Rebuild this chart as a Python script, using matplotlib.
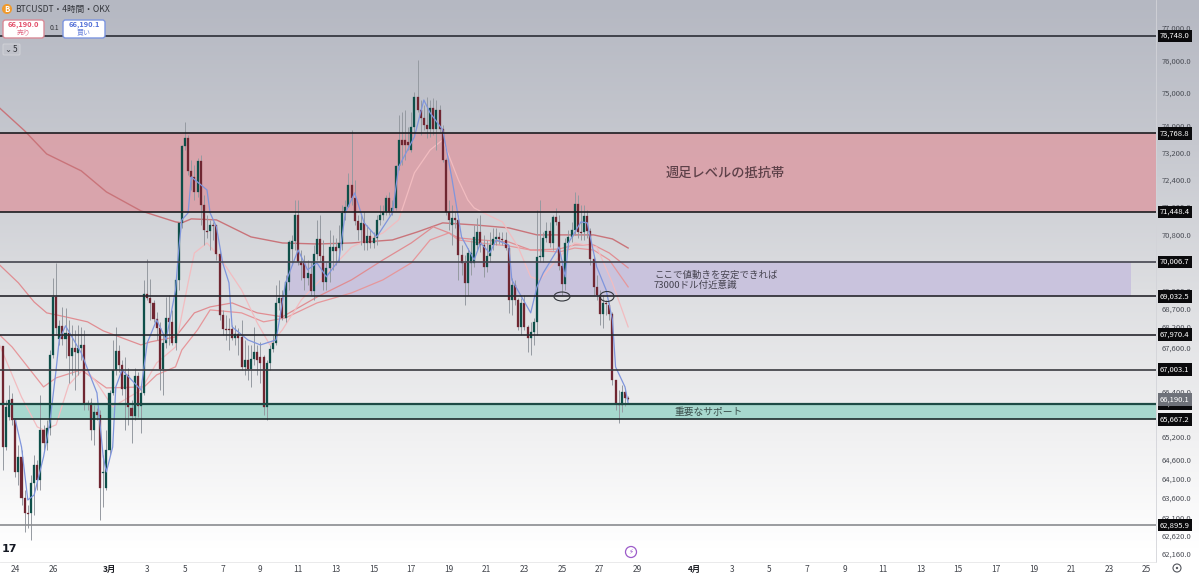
import numpy as np
import matplotlib
matplotlib.use("Agg")
import matplotlib.pyplot as plt
from matplotlib.colors import LinearSegmentedColormap
from matplotlib.patches import Ellipse, FancyBboxPatch, Circle
from matplotlib.ticker import NullLocator, NullFormatter

plt.rcParams['font.family'] = ['Noto Sans CJK JP', 'DejaVu Sans']

# 4h candles
opens = [67653, 64929, 65730, 66210, 65650, 64275, 64666, 63596, 63211, 63211,
         63988, 64458, 64066, 65383, 65036, 65436, 67408, 69016, 67850, 68211,
         67850, 68017, 67381, 67600, 67463, 67600, 67680, 66103, 66103, 65383,
         65863, 65783, 64250, 63857, 64849, 66370, 67000, 67517, 67136, 66482,
         66864, 65970, 65757, 66836, 66023, 66370, 69103, 68989, 68850, 68405,
         68155, 67027, 67738, 68433, 68322, 67738, 69500, 71130, 73390, 73634,
         72652, 72475, 72032, 72948, 71650, 70900, 70900, 71072, 71072, 70236,
         68516, 68128, 68128, 68128, 67878, 67989, 67905, 67082, 67272, 67027,
         67300, 67490, 67354, 67354, 65996, 67190, 67571, 67738, 68850, 68989,
         68433, 69443, 70377, 70609, 71362, 70009, 69981, 69557, 69669, 69188,
         70236, 70667, 70179, 69443, 69839, 70321, 70434, 70406, 70522, 71420,
         71594, 72239, 71855, 71188, 70928, 71130, 70551, 70754, 70551, 70696,
         71217, 71362, 71449, 71855, 71449, 71565, 72800, 73574, 73574, 73514,
         73272, 73965, 74868, 74477, 74236, 74026, 73905, 74537, 73905, 74477,
         73905, 72977, 71449, 71072, 71275, 71217, 70207, 69981, 69415, 69981,
         69981, 70494, 70870, 70494, 69868, 70179, 70494, 70667, 70725, 70667,
         70638, 70406, 68933, 69358, 68933, 68183, 68850, 68183, 67878, 68044,
         68322, 70151, 70151, 70696, 70900, 70551, 71304, 71159, 69896, 69386,
         70551, 70725, 70928, 71680, 70870, 70870, 71333, 70900, 70094, 69301,
         69075, 68544, 68850, 68794, 68544, 66727, 66076, 66050, 66400, 66236]
closes = [64929, 65996, 66183, 65650, 64275, 64666, 63596, 63211, 63186, 63988,
          64458, 64066, 65383, 65036, 65436, 67408, 69016, 68155, 68211, 67850,
          68017, 67381, 67600, 67490, 67600, 67680, 66103, 66076, 65383, 65863,
          65783, 63857, 64275, 64849, 66370, 67000, 67517, 67136, 66482, 66864,
          65996, 65757, 66836, 66023, 66370, 69103, 68989, 68850, 68405, 68155,
          67027, 67738, 68433, 68322, 67738, 69500, 71130, 73390, 73634, 72652,
          72475, 72032, 72948, 71650, 70928, 70870, 71072, 71043, 70236, 68516,
          68128, 68100, 68100, 67878, 67989, 67878, 67082, 67272, 67027, 67300,
          67490, 67272, 67190, 65996, 67190, 67571, 67738, 68850, 68989, 68433,
          69443, 70575, 70609, 71362, 70009, 69924, 69557, 69698, 69188, 70236,
          70667, 70179, 69443, 69839, 70434, 70434, 70321, 70551, 71420, 71594,
          72239, 71855, 71188, 70928, 71130, 70551, 70754, 70551, 70696, 71217,
          71362, 71449, 71855, 71449, 71565, 72800, 73574, 73423, 73423, 73423,
          73965, 74868, 74477, 74236, 74026, 73905, 74537, 73905, 74477, 73905,
          72977, 71449, 71217, 71275, 71217, 70207, 69981, 69415, 70264, 70264,
          70725, 70870, 70494, 69868, 70179, 70494, 70667, 70725, 70667, 70638,
          70406, 68933, 69358, 68933, 68183, 68850, 68183, 67878, 68044, 68322,
          70151, 70179, 70696, 70900, 70551, 71304, 71159, 69896, 69386, 70551,
          70725, 70928, 71680, 70870, 70841, 71333, 70900, 70094, 69301, 69075,
          68544, 68850, 68822, 68544, 66727, 66103, 66050, 66400, 66236, 66210]
highs = [67653, 66183, 66591, 66374, 65650, 64983, 64849, 63805, 63416, 64197,
         64718, 64588, 66319, 65516, 65650, 67544, 69557, 69981, 68377, 68738,
         68711, 68377, 68239, 68100, 68239, 68183, 68100, 66183, 66236, 66050,
         65970, 65916, 64718, 65383, 66455, 67822, 68183, 67683, 67272, 67354,
         67054, 66183, 67054, 66945, 66509, 69500, 70094, 69528, 68933, 68600,
         68322, 67961, 69016, 69075, 68655, 69500, 71159, 73420, 74116, 73724,
         72977, 72830, 73036, 73125, 71943, 71362, 71217, 71159, 71072, 70349,
         68655, 68516, 68433, 68239, 68239, 68155, 68377, 67822, 67683, 67683,
         68183, 67683, 67761, 67408, 67272, 67683, 67961, 69358, 69500, 69216,
         69641, 70638, 70783, 71796, 71796, 70349, 70207, 70066, 70009, 70494,
         71217, 71362, 70638, 70009, 70928, 70783, 70696, 71072, 71651, 71796,
         72593, 73875, 72386, 71362, 71362, 71449, 71072, 70928, 70870, 71362,
         71651, 71651, 71943, 72032, 71796, 72830, 74326, 74417, 74477, 73965,
         74417, 75019, 75990, 74778, 74627, 74868, 74778, 74838, 74778, 74627,
         74026, 73036, 71796, 71651, 71449, 71362, 70494, 70207, 70406, 70638,
         71072, 71275, 71362, 70783, 70638, 70870, 70986, 70986, 70870, 70870,
         70870, 70494, 69557, 69500, 68989, 68989, 69075, 68239, 68322, 68433,
         71507, 71796, 70870, 71159, 71159, 71362, 71565, 71362, 70066, 70696,
         70928, 71159, 72032, 71943, 71651, 71651, 71507, 70986, 70207, 69641,
         69216, 69075, 68933, 68878, 68600, 66727, 66455, 66591, 66509, 66290]
lows = [64327, 64849, 65650, 65517, 64144, 63936, 63416, 62725, 62827, 62520,
        63160, 63805, 63805, 64849, 64849, 65250, 67326, 67961, 67683, 67683,
        67326, 66645, 66864, 66455, 66864, 67272, 65916, 65916, 65116, 64983,
        65650, 63032, 63365, 63805, 64718, 66316, 66864, 66945, 66316, 65383,
        65517, 65036, 65650, 65730, 65303, 66316, 68933, 68377, 68322, 67822,
        66455, 66316, 67600, 67683, 67683, 67544, 69216, 70986, 73272, 72534,
        72091, 71796, 71884, 71072, 70494, 70696, 70349, 70638, 70066, 68377,
        67961, 67822, 67544, 67822, 67683, 67408, 67000, 66864, 66727, 66537,
        67136, 66864, 66645, 65783, 65650, 67000, 67490, 67683, 68655, 68377,
        68322, 69216, 69925, 70349, 69925, 69500, 69216, 69358, 69075, 68933,
        70066, 70009, 69216, 69216, 69443, 69783, 69925, 70009, 70349, 71217,
        71594, 71650, 71072, 70638, 70494, 70349, 70349, 70406, 70406, 70494,
        71072, 71217, 71362, 71362, 71362, 71507, 72682, 72830, 72977, 73272,
        73213, 73724, 74417, 73724, 73875, 73634, 73664, 73724, 73272, 73815,
        72918, 71362, 70928, 70494, 70986, 69500, 69641, 68794, 69075, 69641,
        69868, 70349, 70300, 69585, 69726, 70009, 70349, 70494, 70522, 70494,
        70349, 68572, 68516, 68794, 68100, 67961, 68100, 67490, 67408, 67683,
        67961, 70009, 70009, 70580, 70434, 70349, 71072, 69783, 69075, 69216,
        70406, 70580, 70783, 70696, 70638, 70638, 70696, 69925, 69075, 68933,
        68239, 68155, 68516, 68377, 66591, 65916, 65570, 65863, 66023, 66183]

# moving averages, read at a few candles each
blue_idx = [4, 6, 8, 10, 13, 15, 17, 18, 20, 25, 28, 30, 32, 33, 35, 36, 38, 44, 46, 49,
            52, 55, 56, 57, 59, 60, 65, 66, 68, 70, 72, 73, 78, 82, 87, 90, 94, 97, 100, 103,
            107, 109, 112, 115, 119, 124, 126, 131, 134, 136, 140, 142, 143, 146, 150, 152, 155, 157, 161, 162,
            168, 170, 172, 177, 179, 180, 184, 186, 189, 192, 194, 195, 198, 199]
blue_ma = [65650, 64929, 63544, 63672, 64666, 65570, 67000, 67822, 68211, 67463, 66809, 66374, 64666, 64275, 64929, 66536, 67000, 66455, 67738, 68377,
           67822, 69216, 70349, 71217, 71420, 72475, 72091, 71420, 71015, 69981, 69415, 68183, 67822, 67683, 67822, 69415, 70349, 69783, 69981, 69585,
           70066, 71420, 72003, 71130, 70725, 71420, 72770, 73664, 74778, 74387, 73875, 72889, 72386, 70725, 70066, 70551, 70264, 70638, 70494, 69500,
           68572, 69301, 69698, 70434, 69585, 70551, 71159, 71130, 69868, 69216, 68377, 67082, 66536, 66103]
pink_idx = [-1, 6, 11, 13, 17, 21, 26, 30, 35, 44, 49, 55, 59, 61, 65, 69, 76, 81, 85, 89,
            95, 111, 121, 126, 131, 136, 140, 145, 148, 150, 153, 159, 164, 168, 171, 177, 182, 189, 194, 199]
pink_ma = [67683, 66263, 65463, 65383, 65517, 66591, 67054, 66645, 65996, 66455, 67190, 67627, 69415, 70264, 70551, 70151, 69216, 68294, 67683, 68100,
           68933, 70434, 70841, 71217, 72593, 73272, 73574, 72386, 71796, 71565, 71420, 71159, 70434, 69585, 69500, 70151, 70551, 70434, 69415, 68183]
mid_idx = [-1, 5, 10, 14, 20, 27, 32, 44, 47, 55, 61, 66, 73, 81, 89, 100, 111, 121, 130, 137,
           142, 145, 152, 161, 168, 177, 182, 188, 193, 199]
mid_ma = [69925, 69415, 68877, 68572, 68461, 68322, 68072, 67683, 67766, 67905, 68572, 68739, 68850, 68572, 68461, 69016, 69500, 70066, 70551, 71015,
          70841, 70696, 70638, 70580, 70349, 70377, 70494, 70494, 70264, 69839]
low_idx = [-1, 3, 13, 17, 25, 33, 45, 49, 55, 57, 62, 66, 76, 83, 90, 100, 111, 121, 130, 136,
           142, 145, 152, 161, 168, 177, 182, 188, 193, 199]
low_ma = [67961, 67627, 66536, 66782, 67000, 66509, 66536, 66864, 67082, 67544, 68100, 68655, 68572, 68322, 68433, 68850, 69131, 69500, 69981, 70638,
          70841, 70638, 70551, 70464, 70349, 70292, 70406, 70349, 70066, 69301]
slow_idx = [-1, 7, 14, 25, 33, 44, 55, 57, 60, 68, 79, 89, 100, 111, 124, 132, 140, 150, 161, 170,
            182, 188, 194, 199]
slow_ma = [74537, 73845, 73154, 72652, 72032, 71478, 71159, 71130, 71246, 71217, 70725, 70551, 70522, 70551, 70638, 70870, 71130, 71072, 70986, 70783,
           70783, 70783, 70667, 70406]

# horizontal levels
level_prices = [76748.0, 73768.8, 71448.4, 70006.7, 69032.5, 67970.4, 67003.1, 62895.9]
level_colors = ['#2b2e35', '#1c1c20', '#1c1c20', '#44454f', '#26262c', '#26262c', '#3a3b40', '#8a8c8f']
support_top = 66076.0
support_bottom = 65667.2

# price axis
price_ticks = [77000, 76000, 75000, 74000, 73200, 72400, 71600, 70800, 69200, 68700, 68200,
               67600, 66400, 65800, 65200, 64600, 64100, 63600, 63100, 62620, 62160]
# date axis, candle index of each label
date_ticks = [4, 16, 34, 46, 58, 70, 82, 94, 106, 118, 130, 142, 154, 166, 178, 190, 202,
              220, 232, 244, 256, 268, 280, 292, 304, 316, 328, 340, 352, 364]
date_labels = ['24', '26', '3月', '3', '5', '7', '9', '11', '13', '15', '17', '19', '21', '23', '25', '27', '29',
               '4月', '3', '5', '7', '9', '11', '13', '15', '17', '19', '21', '23', '25']

W, H = 1199, 578
fig = plt.figure(figsize=(W / 100, H / 100), dpi=100)

# background gradient behind everything
bg = fig.add_axes([0, 0, 1, 1], zorder=0)
cmap = LinearSegmentedColormap.from_list('bg', [(0, '#b5b8c2'), (0.25, '#c6c8cf'), (0.5, '#dddee1'),
                                                (0.75, '#f0f0f1'), (0.95, '#ffffff'), (1, '#ffffff')], N=1024)
bg.imshow(np.linspace(0, 1, H).reshape(-1, 1), aspect='auto', cmap=cmap, vmin=0, vmax=1, interpolation='bilinear')
bg.axis('off')

ax = fig.add_axes([0, (H - 562) / H, 1156 / W, 562 / H], zorder=1)
ax.patch.set_alpha(0)
ax.set_yscale('log')
ax.set_ylim(61960, 77884)
ax.set_xlim(-0.85, 366.95)

# zones
ax.axhspan(level_prices[2], level_prices[1], color='#daa2aa', alpha=0.95, lw=0, zorder=1)
ax.fill_between([90.5, 359], level_prices[4], level_prices[3], color='#c9c3dd', lw=0, zorder=1)
ax.fill_between([3.3, 367], support_bottom, support_top, color='#a7d8ce', lw=0, zorder=1)

# moving averages
ax.plot(slow_idx, slow_ma, color='#c9747a', lw=1.0, zorder=2)
ax.plot(mid_idx, mid_ma, color='#e08d92', lw=0.9, zorder=2)
ax.plot(low_idx, low_ma, color='#e6979b', lw=0.9, zorder=2)
ax.plot(pink_idx, pink_ma, color='#f2bcc0', lw=0.9, zorder=2)

# candles
idx = np.arange(len(closes))
o = np.array(opens, dtype=float)
c = np.array(closes, dtype=float)
up = c >= o
ax.vlines(idx, lows, highs, color='#959aa1', lw=0.7, zorder=3)
ax.bar(idx[up], np.maximum(c - o, 25)[up], bottom=o[up], width=0.66, color='#0e4f49',
       edgecolor='#0e4f49', lw=0.2, zorder=4)
ax.bar(idx[~up], np.maximum(o - c, 25)[~up], bottom=c[~up], width=0.66, color='#6f2631',
       edgecolor='#6f2631', lw=0.2, zorder=4)
ax.plot(blue_idx, blue_ma, color='#7f95dc', lw=0.9, zorder=5)

# levels
ax.hlines(level_prices, -0.85, 367, colors=level_colors, lw=1.2, zorder=6)
ax.hlines(support_top, -0.85, 367, color='#1d4a45', lw=1.6, zorder=6)
ax.hlines(support_bottom, 3.3, 367, color='#1c2c2c', lw=1.2, zorder=6)

# axes cosmetics
for s in ax.spines.values():
    s.set_visible(False)
ax.spines['right'].set_visible(True)
ax.spines['right'].set_color('#d2d3d8')
ax.spines['right'].set_linewidth(0.6)
ax.spines['bottom'].set_visible(True)
ax.spines['bottom'].set_color('#e6e6e8')
ax.spines['bottom'].set_linewidth(0.6)
ax.yaxis.set_minor_locator(NullLocator())
ax.yaxis.set_minor_formatter(NullFormatter())
ax.yaxis.tick_right()
ax.set_yticks(price_ticks)
ax.set_yticklabels([f'{p:,.1f}' for p in price_ticks])
ax.tick_params(axis='y', length=0, pad=4, labelsize=5.5, labelcolor='#4a4d55')
ax.set_xticks(date_ticks)
ax.set_xticklabels(date_labels)
ax.tick_params(axis='x', length=0, pad=2, labelsize=6, labelcolor='#43464d')
for lab, text in zip(ax.get_xticklabels(), date_labels):
    if '月' in text:
        lab.set_fontweight('bold')
        lab.set_color('#1c1e24')

# level tags on the price axis
tag_trans = ax.get_yaxis_transform()
all_tags = level_prices + [support_top, support_bottom]
for p in all_tags:
    ax.text(1.0035, p, f'{p:,.1f}', transform=tag_trans, color='white', fontsize=5.5, va='center', ha='left',
            clip_on=False, zorder=8, bbox=dict(boxstyle='square,pad=0.3', fc='#0a0a0c', ec='none'))
ax.text(1.0035, 66190.1, '66,190.1', transform=tag_trans, color='white', fontsize=5.5, va='center', ha='left',
        clip_on=False, zorder=9, bbox=dict(boxstyle='square,pad=0.3', fc='#6e7179', ec='none'))

# overlay in pixel coordinates for drawings and chart chrome
ov = fig.add_axes([0, 0, 1, 1], zorder=2)
ov.set_xlim(0, W)
ov.set_ylim(H, 0)
ov.axis('off')

ov.text(725.5, 173, '週足レベルの抵抗帯', fontsize=9.5, color='#5d4048', ha='center', va='center', fontweight='medium')
ov.text(654, 275, 'ここで値動きを安定できれば', fontsize=6.8, color='#45434f', ha='left', va='center')
ov.text(654, 285, '73000ドル付近意識', fontsize=6.8, color='#45434f', ha='left', va='center')
ov.text(709, 411.5, '重要なサポート', fontsize=7, color='#3c4f4c', ha='center', va='center')

ov.add_patch(Ellipse((562, 296.5), 16, 9, fc='none', ec='#33363c', lw=0.8))
ov.add_patch(Ellipse((607, 296.5), 14, 10, fc='none', ec='#33363c', lw=0.8))

# header
ov.add_patch(Circle((7, 9), 5, fc='#f09a2c', ec='none'))
ov.text(7, 9, 'B', fontsize=5.5, color='white', ha='center', va='center', fontweight='bold')
ov.text(15, 9, 'BTCUSDT・4時間・OKX', fontsize=6.2, color='#33353b', ha='left', va='center')
ov.add_patch(FancyBboxPatch((3, 20), 41, 18, boxstyle='round,pad=0,rounding_size=2.5', fc='white', ec='#d98a97', lw=1))
ov.text(23.5, 24.5, '66,190.0', fontsize=5.4, color='#e2506a', ha='center', va='center', fontweight='bold')
ov.text(23.5, 32.5, '売り', fontsize=5, color='#e2708a', ha='center', va='center')
ov.text(54, 28, '0.1', fontsize=5, color='#33353b', ha='center', va='center')
ov.add_patch(FancyBboxPatch((63, 20), 42, 18, boxstyle='round,pad=0,rounding_size=2.5', fc='white', ec='#7c96e0', lw=1))
ov.text(84, 24.5, '66,190.1', fontsize=5.4, color='#5572d8', ha='center', va='center', fontweight='bold')
ov.text(84, 32.5, '買い', fontsize=5, color='#6a84dc', ha='center', va='center')
ov.add_patch(FancyBboxPatch((3, 44), 17, 11, boxstyle='round,pad=0,rounding_size=1', fc='#c0c2ca', ec='#d4d5da', lw=0.6))
ov.text(8, 49, '⌄', fontsize=6, color='#33353b', ha='center', va='center', family='DejaVu Sans')
ov.text(15, 49.5, '5', fontsize=6, color='#33353b', ha='center', va='center')

# logo and small icons
ov.text(9, 549, '17', fontsize=8, color='#131722', ha='center', va='center', fontweight='black', family='DejaVu Sans')
ov.add_patch(Circle((631, 552), 5.5, fc='white', ec='#9c5bc9', lw=0.9))
ov.text(631, 552, '⚡', fontsize=5, color='#9c5bc9', ha='center', va='center', family='DejaVu Sans')
ov.add_patch(Circle((1177, 568), 4, fc='none', ec='#55585f', lw=0.8))
ov.add_patch(Circle((1177, 568), 1.2, fc='#55585f', ec='none'))

fig.savefig('out.png', dpi=100)
